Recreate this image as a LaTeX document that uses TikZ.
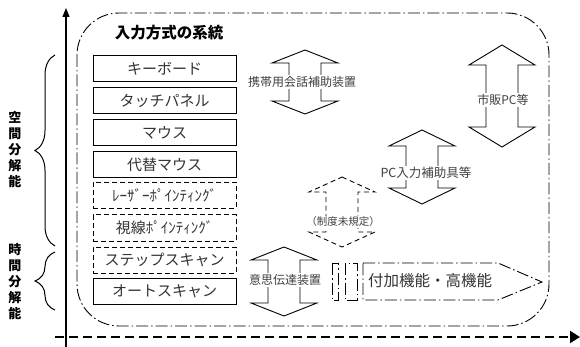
\documentclass[tikz,border=0pt]{standalone}
\usepackage{fontspec}
\setmainfont{Noto Sans CJK JP}
\usetikzlibrary{arrows.meta,decorations.pathreplacing}
\newcommand{\dblarrow}[5]{%
  \draw[#5] (#1,#2) -- (#1+33,#2+#4) -- (#1+16,#2+#4) -- (#1+16,#3-#4) -- (#1+33,#3-#4) -- (#1,#3)
    -- (#1-33,#3-#4) -- (#1-16,#3-#4) -- (#1-16,#2+#4) -- (#1-33,#2+#4) -- cycle;}
\tikzset{
  box/.style={draw, line width=1pt, minimum width=143pt, minimum height=26pt, inner sep=0pt,
    font=\fontsize{15}{15}\selectfont, text=black!80},
  dbox/.style={box, dash pattern=on 5pt off 3pt},
  frame/.style={line width=0.9pt, dash pattern=on 12pt off 3pt on 1.5pt off 3pt},
  hollow/.style={line width=0.9pt},
  hollowdash/.style={line width=0.9pt, dash pattern=on 5pt off 3.5pt},
  lbl/.style={fill=white, inner sep=1pt, font=\fontsize{12}{12}\selectfont, text=black!75},
  vlbl/.style={align=center, inner sep=0pt, font=\bfseries\fontsize{13}{16}\selectfont},
  bracestyle/.style={line width=1pt, decorate, decoration={brace, amplitude=20pt}}
}
\begin{document}
\begin{tikzpicture}[x=1pt, y=-1pt]
\useasboundingbox (0,0) rectangle (580,347);
% frame
\draw[frame, rounded corners=42pt] (77,13) rectangle (549,326);
% axes
\draw[line width=1.2pt, -{Triangle[length=9pt,width=7pt]}] (66,347) -- (66,8);
\draw[line width=2pt, dash pattern=on 9pt off 5pt, -{Triangle[length=10pt,width=12pt]}] (55,337) -- (580,337);
% title
\node[font=\bfseries\fontsize{15.5}{15.5}\selectfont, inner sep=0pt] (title) at (169,33) {入力方式の系統};
% boxes
\node[box] (b1) at (164.5,69) {キーボード};
\node[box] (b2) at (164.5,100.5) {タッチパネル};
\node[box] (b3) at (164.5,132.5) {マウス};
\node[box] (b4) at (164.5,165) {代替マウス};
\node[dbox] (b5) at (164.5,195.5) {ﾚｰｻﾞｰﾎﾟｲﾝﾃｨﾝｸﾞ};
\node[dbox] (b6) at (164.5,228) {視線ﾎﾟｲﾝﾃｨﾝｸﾞ};
\node[dbox] (b7) at (164.5,260) {ステップスキャン};
\node[box] (b8) at (164.5,291.5) {オートスキャン};
% braces and side labels
\draw[bracestyle] (55,246) -- (55,55);
\draw[bracestyle] (55,310) -- (55,252);
\node[vlbl] (space) at (15,150) {空\\間\\分\\解\\能};
\node[vlbl] (time) at (15,282) {時\\間\\分\\解\\能};
% double arrows
\dblarrow{305}{50}{114}{13}{hollow}
\node[lbl] (a1) at (302,82) {携帯用会話補助装置};
\dblarrow{502}{45}{147}{20}{hollow}
\node[lbl] (a2) at (503,100) {市販PC等};
\dblarrow{422}{130}{204}{16}{hollow}
\node[lbl, font=\fontsize{12.5}{12.5}\selectfont] (a3) at (426,173) {PC入力補助具等};
\dblarrow{342}{177}{247}{15}{hollowdash}
\node[lbl, font=\fontsize{10.5}{10.5}\selectfont] (a4) at (343,222) {（制度未規定）};
\dblarrow{284}{247}{316}{13}{hollow}
\node[lbl] (a5) at (285,280) {意思伝達装置};
% additional function arrow
\draw[frame] (332,263) rectangle (338,300);
\draw[frame] (345,263) rectangle (357,300);
\draw[frame] (363,263) -- (498,263) -- (542,282) -- (498,300) -- (363,300) -- cycle;
\node[font=\fontsize{15.5}{15.5}\selectfont, text=black!80, inner sep=0pt] (extra) at (430,281) {付加機能・高機能};
\end{tikzpicture}
\end{document}
